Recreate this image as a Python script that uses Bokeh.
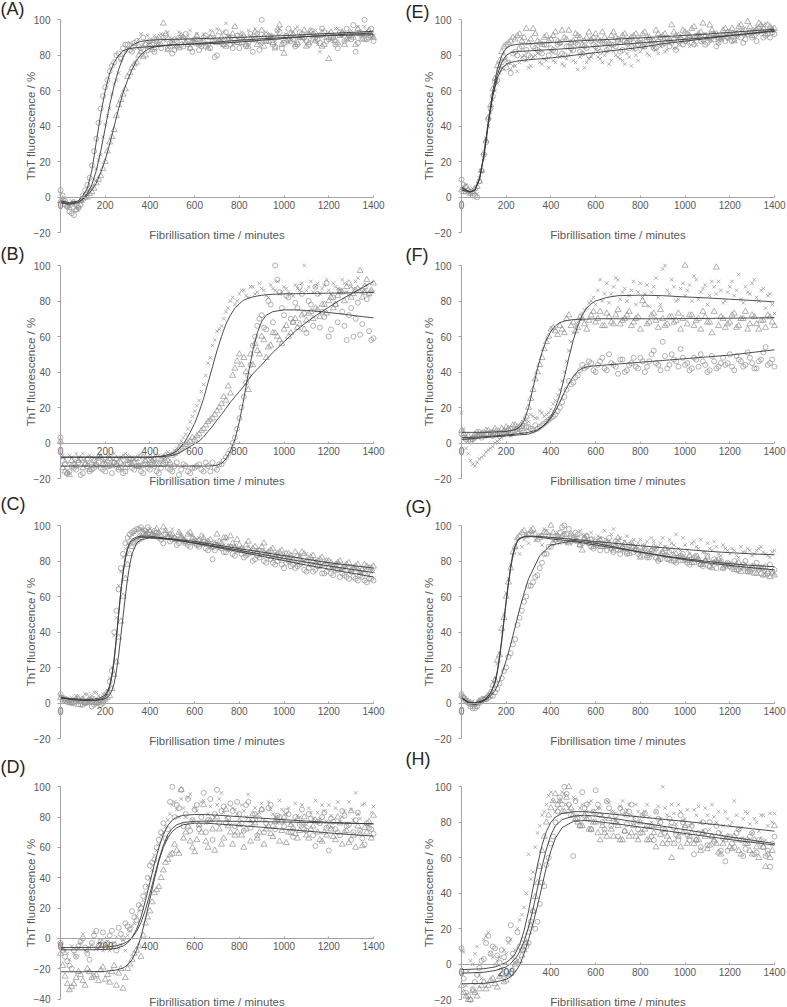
from bokeh.plotting import figure
from bokeh.models import LinearAxis, FixedTicker, Range1d, Label, Grid
from bokeh.layouts import column, row
from bokeh.embed import file_html
from bokeh.resources import INLINE

# ---------------- data ----------------
TIME = list(range(0, 1401, 20))          # sampling times (min), set 1
TIME_B = list(range(10, 1400, 20))       # sampling times (min), set 2 (interleaved)
X_TICKS = [0, 200, 400, 600, 800, 1000, 1200, 1400]
Y_TICKS = [-20, 0, 20, 40, 60, 80, 100]
Y_TICKS_D = [-40, -20, 0, 20, 40, 60, 80, 100]

# Panel A
A_circle = [4, -2, -8, -10, -6, 1, 7, 18, 33, 50,
            62, 71, 76, 81, 84, 86, 82, 88, 84, 86,
            88, 82, 86, 90, 84, 81, 88, 86, 92, 84,
            87, 83, 90, 86, 88, 80, 87, 93, 86, 89,
            84, 90, 87, 82, 92, 100, 88, 91, 85, 93,
            87, 95, 89, 86, 92, 88, 94, 90, 87, 93,
            89, 91, 84, 92, 95, 89, 82, 93, 100, 90,
            88]
A_circle_b = [1, -5, -9, -7, -4, 4, 11, 26, 42, 57,
              66, 74, 80, 78, 86, 83, 87, 85, 90, 83,
              86, 89, 84, 91, 87, 83, 90, 85, 88, 82,
              89, 85, 91, 84, 79, 88, 86, 90, 84, 91,
              87, 85, 92, 89, 83, 90, 88, 86, 94, 84,
              91, 88, 85, 93, 90, 86, 92, 89, 95, 88,
              90, 86, 93, 88, 91, 97, 87, 92, 89, 95]
A_cross = [2, -3, -5, -4, -6, -2, 3, 6, 16, 24,
           41, 50, 64, 70, 80, 84, 86, 85, 92, 88,
           87, 91, 86, 89, 93, 88, 85, 91, 89, 94,
           88, 86, 92, 90, 87, 95, 89, 98, 91, 87,
           92, 89, 94, 88, 91, 86, 93, 90, 88, 95,
           90, 87, 93, 96, 89, 92, 90, 94, 82, 91,
           93, 88, 95, 91, 89, 94, 92, 90, 96, 93,
           91]
A_cross_b = [-1, -4, -2, -6, -3, 1, 5, 10, 21, 34,
             46, 58, 66, 77, 82, 87, 84, 89, 86, 91,
             89, 86, 92, 88, 90, 85, 93, 87, 91, 88,
             92, 89, 87, 94, 90, 88, 93, 91, 86, 90,
             93, 88, 91, 95, 87, 92, 89, 91, 94, 88,
             92, 89, 95, 90, 88, 93, 91, 86, 94, 92,
             89, 95, 91, 93, 90, 92, 96, 91, 94, 90]
A_triangle = [-2, -4, -6, -3, -5, -1, 0, 3, 8, 12,
              20, 31, 38, 52, 58, 68, 73, 76, 82, 80,
              86, 84, 90, 98, 83, 88, 85, 91, 87, 84,
              89, 86, 88, 84, 92, 87, 90, 85, 88, 96,
              87, 91, 85, 89, 86, 94, 88, 90, 84, 97,
              81, 89, 92, 87, 90, 85, 93, 88, 91, 86,
              78, 90, 87, 93, 89, 91, 86, 92, 89, 94,
              90]
A_triangle_b = [-1, -5, -4, -7, -2, 0, 2, 5, 10, 16,
                26, 34, 46, 55, 61, 70, 75, 80, 79, 85,
                83, 88, 86, 92, 85, 89, 84, 90, 86, 88,
                91, 87, 85, 90, 88, 93, 86, 89, 92, 87,
                90, 86, 89, 93, 88, 85, 91, 87, 90, 86,
                88, 92, 86, 90, 94, 87, 89, 91, 85, 90,
                93, 88, 91, 86, 92, 90, 95, 89, 92, 91]
A_fit_t = [0, 40, 80, 100, 120, 140, 160, 180, 200, 220, 240, 260, 280, 300, 320,
           340, 360, 380, 400, 450, 500, 600, 700, 800, 900, 1000, 1100, 1200, 1300, 1400]
A_fit_circle = [-2, -3, -2, 1, 5, 15, 31, 47, 60, 70, 76, 80, 82.5, 83.5, 84,
                84.3, 84.5, 84.7, 85, 85.3, 85.7, 86.5, 87.5, 88.5, 89.3, 90, 90.6, 91.1, 91.4, 91.6]
A_fit_cross = [-3, -4, -3, -1, 2, 7, 15, 26, 39, 52, 63, 72, 79, 83, 85.5,
               87, 87.8, 88.2, 88.5, 88.8, 89, 89.3, 89.7, 90.1, 90.6, 91.1, 91.7, 92.3, 92.9, 93.5]
A_fit_triangle = [-3, -3.5, -2.5, -1, 1, 4, 8, 14, 21, 30, 40, 50, 59, 66, 72,
                  77, 80.5, 82.5, 84, 85.5, 86, 86.3, 86.7, 87.5, 88.5, 89.5, 90.5, 91.3, 92, 92.5]

# Panel E
E_circle = [10, 6, 3, 1, 9, 24, 44, 57, 66, 76,
            73, 70, 82, 84, 78, 80, 85, 83, 81, 86,
            84, 82, 87, 80, 85, 83, 86, 81, 84, 88,
            85, 82, 87, 84, 86, 88, 83, 87, 85, 84,
            87, 85, 89, 84, 88, 86, 90, 87, 83, 89,
            88, 90, 86, 91, 89, 87, 92, 85, 90, 88,
            91, 89, 93, 87, 92, 90, 88, 94, 91, 90,
            92]
E_circle_b = [7, 4, 1, 0, 15, 31, 50, 65, 72, 79,
              76, 81, 80, 85, 83, 79, 84, 82, 86, 80,
              83, 86, 81, 85, 84, 87, 82, 85, 80, 86,
              84, 87, 83, 86, 85, 82, 88, 84, 87, 86,
              85, 88, 86, 84, 90, 87, 85, 89, 88, 86,
              89, 87, 91, 88, 86, 90, 89, 87, 91, 90,
              88, 92, 90, 89, 93, 91, 95, 90, 92, 93]
E_cross = [5, 7, 4, 3, 11, 22, 40, 55, 64, 73,
           78, 72, 74, 76, 80, 73, 79, 81, 75, 77,
           82, 76, 79, 74, 80, 77, 72, 81, 76, 79,
           83, 78, 80, 75, 82, 79, 77, 81, 74, 80,
           82, 85, 80, 84, 81, 86, 83, 88, 84, 86,
           89, 85, 88, 91, 87, 90, 88, 92, 89, 91,
           90, 93, 91, 95, 92, 94, 96, 93, 98, 95,
           94]
E_cross_b = [6, 3, 5, 2, 14, 33, 48, 60, 70, 72,
             76, 74, 71, 79, 77, 74, 80, 76, 78, 73,
             77, 80, 75, 78, 82, 76, 79, 73, 78, 81,
             79, 76, 82, 77, 80, 78, 75, 79, 83, 77,
             84, 81, 86, 83, 85, 82, 87, 84, 86, 88,
             87, 90, 86, 89, 92, 88, 90, 87, 91, 89,
             92, 90, 94, 91, 93, 95, 92, 97, 94, 96]
E_triangle = [4, 3, 2, 5, 9, 25, 45, 61, 74, 82,
              86, 88, 89, 92, 90, 87, 95, 88, 86, 91,
              89, 93, 87, 90, 94, 88, 91, 86, 90, 89,
              92, 88, 90, 87, 93, 89, 91, 88, 90, 92,
              89, 93, 90, 88, 92, 91, 89, 97, 91, 90,
              93, 91, 96, 92, 98, 90, 94, 92, 89, 95,
              93, 88, 96, 92, 99, 91, 94, 97, 92, 96,
              95]
E_triangle_b = [3, 4, 3, 6, 15, 32, 52, 67, 77, 85,
                87, 90, 91, 88, 95, 89, 92, 87, 90, 88,
                91, 88, 94, 89, 87, 92, 90, 88, 93, 90,
                89, 93, 88, 91, 90, 87, 92, 89, 91, 88,
                92, 90, 88, 94, 90, 92, 89, 93, 91, 94,
                92, 95, 90, 93, 91, 97, 92, 90, 94, 93,
                95, 92, 97, 94, 96, 93, 98, 95, 97, 94]
E_fit_t = [0, 20, 40, 60, 80, 100, 120, 140, 160, 180, 200, 220, 240, 260, 300,
           400, 500, 600, 700, 800, 900, 1000, 1100, 1200, 1300, 1400]
E_fit_circle = [6, 4, 3, 4, 10, 23, 42, 58, 69, 76, 80, 81.5, 82, 82.2, 82.5,
                83.2, 84, 85, 86, 87, 88, 89, 90, 91.2, 92.3, 93.5]
E_fit_cross = [5, 4, 3, 4, 10, 23, 41, 57, 67, 72.5, 75, 76, 76.5, 77, 77.5,
               78.5, 80, 81.5, 83, 84.5, 86.5, 88, 89.5, 91, 92.5, 94]
E_fit_triangle = [4, 3.5, 3, 4, 10, 24, 43, 60, 72, 80, 84, 85.5, 86, 86.3, 86.6,
                  87.2, 88, 88.6, 89.2, 89.8, 90.5, 91.2, 92, 92.9, 93.8, 94.7]

# Panel B
B_circle = [3, -12, -16, -14, -11, -17, -13, -15, -12, -14,
            -16, -13, -11, -15, -17, -12, -14, -13, -16, -12,
            -15, -13, -17, -12, -14, -16, -11, -15, -13, -17,
            -14, -12, -16, -13, -11, -15, -12, -8, -4, 3,
            14, 26, 38, 55, 66, 72, 64, 78, 100, 85,
            72, 82, 68, 76, 84, 62, 78, 88, 65, 71,
            60, 82, 68, 74, 58, 76, 70, 61, 85, 63,
            59]
B_circle_b = [-10, -17, -13, -15, -18, -12, -16, -14, -11, -15,
              -13, -17, -12, -14, -16, -11, -15, -13, -17, -14,
              -12, -16, -14, -11, -15, -13, -18, -12, -16, -14,
              -13, -15, -11, -16, -14, -12, -10, -6, 0, 8,
              20, 34, 44, 60, 70, 65, 80, 68, 92, 76,
              83, 70, 79, 88, 73, 80, 66, 84, 74, 90,
              64, 78, 86, 66, 72, 60, 79, 67, 81, 58]
B_cross = [0, -9, -7, -10, -8, -6, -11, -8, -9, -7,
           -10, -8, -6, -9, -11, -7, -8, -10, -6, -9,
           -8, -10, -7, -9, -5, -6, -3, 1, 5, 12,
           18, 24, 33, 45, 55, 63, 66, 74, 80, 78,
           84, 86, 82, 88, 85, 87, 83, 89, 86, 84,
           88, 85, 83, 87, 90, 86, 91, 88, 84, 89,
           86, 90, 87, 92, 85, 88, 91, 87, 86, 83,
           85]
B_cross_b = [-7, -11, -8, -6, -10, -9, -7, -12, -8, -10,
             -7, -9, -11, -8, -6, -10, -9, -7, -11, -8,
             -9, -7, -11, -8, -6, -4, -1, 3, 8, 15,
             21, 29, 38, 48, 58, 64, 70, 76, 82, 80,
             86, 83, 88, 84, 90, 86, 82, 87, 91, 85,
             87, 84, 89, 86, 100, 88, 85, 90, 87, 92,
             84, 88, 86, 90, 83, 87, 93, 85, 89, 86]
B_triangle = [1, -16, -18, -12, -10, -14, -9, -11, -13, -8,
              -12, -9, -11, -14, -8, -10, -12, -9, -13, -10,
              -11, -9, -12, -8, -10, -7, -5, -3, -1, 1,
              2, 5, 8, 12, 14, 18, 22, 24, 28, 42,
              50, 48, 30, 44, 52, 60, 48, 55, 62, 58,
              64, 60, 68, 65, 72, 69, 74, 76, 71, 78,
              80, 76, 83, 85, 88, 82, 86, 97, 88, 84,
              90]
B_triangle_b = [-14, -17, -10, -13, -9, -12, -15, -10, -8, -12,
                -10, -13, -9, -11, -14, -9, -11, -13, -8, -12,
                -10, -12, -9, -7, -11, -6, -4, -2, 0, 3,
                4, 7, 10, 13, 16, 20, 26, 32, 38, 46,
                44, 40, 50, 56, 50, 58, 54, 62, 60, 56,
                66, 62, 70, 67, 64, 73, 70, 75, 78, 73,
                82, 78, 85, 80, 90, 84, 87, 82, 92, 86]
B_fit_t = [0, 200, 400, 450, 500, 520, 540, 560, 580, 600, 620, 640, 660, 680, 700, 720,
           740, 760, 780, 800, 820, 840, 860, 880, 900, 920, 950, 1000, 1050, 1100, 1150,
           1200, 1250, 1300, 1350, 1400]
B_fit_circle = [-13, -13, -13, -13, -13, -13, -13, -13, -13, -13, -13, -13, -13, -12.8, -12.5, -11.5,
                -9, -4.5, 2, 12, 25, 39, 52, 62, 68.5, 72, 74, 75, 75, 74.7, 74.2,
                73.5, 72.8, 72, 71.2, 70.5]
B_fit_cross = [-8, -8, -8, -7.5, -6, -4.5, -2, 1.5, 6, 11, 17.5, 25, 34, 43, 52, 60,
               67, 72, 76, 78.5, 80.5, 81.5, 82.3, 82.8, 83.2, 83.5, 83.8, 84, 84.1, 84.2, 84.3,
               84.4, 84.5, 84.6, 84.7, 84.8]
B_fit_triangle = [-8, -8, -8, -7.8, -7, -6.2, -5, -3.5, -2, -0.5, 1, 3.5, 6.5, 9.5, 13, 16,
                  19.5, 23, 26, 29, 32, 35.5, 39, 41.5, 44, 47, 51, 57, 63, 68, 72.5,
                  76.5, 80.5, 84, 87.5, 91]

# Panel F
F_circle = [5, 2, 1, 3, 4, 6, 5, 4, 7, 5,
            6, 5, 7, 8, 6, 9, 7, 8, 10, 12,
            14, 16, 20, 26, 35, 34, 38, 44, 43, 45,
            40, 46, 42, 50, 44, 39, 47, 41, 45, 43,
            48, 40, 46, 52, 44, 57, 42, 50, 46, 53,
            44, 41, 48, 43, 46, 40, 49, 42, 45, 44,
            50, 41, 47, 43, 51, 45, 42, 47, 54, 45,
            43]
F_circle_b = [3, 1, 2, 4, 3, 5, 6, 5, 4, 6,
              7, 6, 8, 7, 9, 8, 10, 9, 11, 13,
              15, 18, 23, 30, 33, 37, 41, 42, 46, 41,
              44, 48, 41, 45, 43, 47, 40, 44, 48, 42,
              46, 43, 50, 45, 41, 49, 44, 47, 43, 48,
              45, 42, 47, 50, 44, 41, 46, 43, 48, 45,
              43, 49, 46, 44, 48, 42, 46, 51, 44, 47]
F_cross = [17, -3, -10, -13, -9, -7, -4, -2, 1, 3,
           5, 4, 7, 6, 9, 12, 15, 14, 17, 16,
           19, 24, 30, 40, 52, 62, 68, 73, 76, 80,
           78, 92, 84, 79, 88, 92, 85, 80, 86, 78,
           90, 84, 77, 88, 82, 98, 86, 92, 80, 87,
           83, 89, 94, 81, 87, 78, 91, 84, 86, 80,
           88, 83, 95, 79, 85, 90, 82, 86, 76, 84,
           73]
F_cross_b = [8, -6, -12, -11, -8, -5, -3, 0, 2, 4,
             6, 5, 8, 10, 13, 16, 14, 18, 15, 17,
             22, 27, 35, 46, 57, 66, 70, 75, 79, 82,
             86, 80, 90, 84, 93, 81, 87, 83, 91, 85,
             82, 89, 85, 93, 78, 100, 84, 88, 81, 90,
             86, 80, 92, 85, 89, 83, 88, 91, 79, 85,
             91, 86, 81, 88, 84, 92, 80, 87, 83, 78]
F_triangle = [7, 3, 2, 5, 6, 4, 7, 6, 5, 8,
              9, 8, 10, 9, 12, 20, 30, 40, 48, 57,
              64, 63, 66, 62, 72, 68, 65, 70, 64, 72,
              68, 74, 66, 71, 67, 75, 69, 72, 66, 70,
              64, 78, 68, 73, 65, 70, 67, 71, 69, 64,
              100, 72, 66, 70, 74, 68, 62, 99, 71, 65,
              68, 73, 66, 70, 64, 72, 67, 69, 65, 71,
              66]
F_triangle_b = [5, 4, 3, 6, 5, 7, 5, 8, 6, 7,
                8, 10, 9, 11, 15, 25, 36, 44, 53, 60,
                65, 61, 64, 70, 66, 63, 71, 67, 69, 74,
                70, 66, 73, 68, 72, 67, 70, 74, 68, 71,
                80, 67, 72, 69, 75, 66, 71, 68, 73, 70,
                67, 72, 69, 64, 71, 68, 74, 66, 70, 67,
                72, 65, 70, 74, 67, 71, 64, 69, 72, 68]
F_fit_t = [0, 100, 200, 240, 260, 280, 300, 320, 340, 360, 380, 400, 420, 440, 460, 480,
           500, 520, 540, 560, 580, 600, 650, 700, 800, 900, 1000, 1100, 1200, 1300, 1400]
F_fit_circle = [3, 3.5, 4.5, 5, 5.3, 5.6, 6, 6.7, 7.5, 9, 11, 14, 18, 23, 28.5, 33.5,
                37.5, 40.5, 42, 42.8, 43.2, 43.5, 44, 44.5, 45.5, 46.5, 47.5, 48.5, 49.5, 51, 52.5]
F_fit_cross = [2, 3, 4, 4.4, 4.6, 4.8, 5, 6, 7, 9, 11.5, 15, 20, 27, 37, 48,
               58, 66, 72, 76, 78.5, 80, 82, 83, 83.3, 83, 82.3, 81.7, 81, 80.3, 79.5]
F_fit_triangle = [6, 6, 6.5, 7.5, 9, 12.5, 20, 31, 42, 51, 58, 63, 66, 67.8, 68.7, 69.2,
                  69.5, 69.6, 69.7, 69.8, 69.9, 70, 70, 70, 70, 70, 70.1, 70.2, 70.3, 70.4, 70.6]

# Panel C
C_circle = [5, 2, 1, 0, 2, -1, 1, -2, 0, -1,
            3, 12, 40, 64, 84, 93, 96, 98, 99, 97,
            95, 97, 93, 90, 94, 92, 89, 93, 91, 88,
            90, 88, 91, 86, 81, 89, 87, 85, 88, 83,
            86, 82, 84, 80, 83, 85, 79, 81, 78, 82,
            76, 80, 78, 77, 79, 74, 78, 75, 77, 73,
            76, 72, 75, 73, 71, 74, 70, 72, 69, 70,
            69]
C_circle_b = [3, 2, 0, 1, -1, 0, 2, -1, 1, 0,
              6, 18, 52, 76, 90, 95, 97, 98, 96, 99,
              94, 96, 92, 95, 91, 93, 90, 92, 89, 91,
              89, 90, 87, 89, 86, 88, 85, 87, 84, 86,
              84, 83, 85, 81, 82, 80, 83, 79, 80, 78,
              79, 77, 76, 78, 75, 76, 74, 77, 73, 74,
              73, 75, 71, 72, 70, 71, 69, 71, 68, 70]
C_cross = [4, 3, 1, 2, 4, 3, 5, 4, 6, 3,
           5, 14, 38, 66, 82, 90, 95, 97, 98, 96,
           98, 94, 96, 93, 95, 98, 91, 94, 92, 95,
           90, 93, 89, 91, 87, 90, 88, 92, 86, 89,
           87, 85, 88, 84, 86, 83, 85, 82, 84, 81,
           83, 80, 82, 79, 81, 84, 78, 80, 77, 79,
           78, 76, 79, 75, 77, 74, 76, 73, 75, 72,
           74]
C_cross_b = [3, 2, 3, 4, 2, 5, 3, 6, 4, 5,
             7, 20, 48, 74, 87, 93, 96, 95, 98, 97,
             96, 95, 93, 97, 94, 92, 96, 93, 91, 94,
             92, 91, 90, 88, 91, 87, 89, 86, 88, 87,
             86, 84, 87, 85, 83, 86, 84, 81, 83, 82,
             82, 81, 79, 83, 80, 78, 81, 79, 78, 80,
             77, 78, 75, 76, 74, 77, 75, 74, 73, 74]
C_triangle = [3, 1, 0, 1, -1, 2, 0, 1, 0, 1,
              2, 4, 16, 37, 60, 78, 88, 91, 93, 95,
              97, 94, 96, 99, 93, 95, 92, 94, 90, 96,
              92, 89, 93, 91, 88, 95, 90, 93, 94, 87,
              89, 86, 91, 87, 85, 88, 84, 86, 83, 85,
              82, 84, 81, 83, 85, 80, 82, 79, 81, 78,
              80, 77, 79, 76, 78, 75, 77, 74, 78, 76,
              77]
C_triangle_b = [2, 1, 0, 2, 1, 0, 1, 2, 0, 1,
                3, 8, 23, 46, 70, 84, 90, 92, 95, 96,
                95, 98, 94, 97, 95, 93, 96, 91, 95, 93,
                91, 94, 90, 92, 89, 91, 93, 88, 90, 92,
                87, 89, 85, 88, 86, 90, 85, 87, 84, 86,
                84, 83, 85, 82, 84, 81, 83, 80, 82, 80,
                79, 78, 80, 77, 79, 76, 78, 75, 77, 76]
C_fit_t = [0, 50, 100, 150, 180, 200, 210, 220, 230, 240, 250, 260, 270, 280, 290, 300,
           310, 320, 340, 360, 400, 500, 600, 700, 800, 900, 1000, 1100, 1200, 1300, 1400]
C_fit_circle = [3, 2, 1.5, 1.5, 2, 3.5, 5.5, 9, 15, 24, 36, 50, 63, 74, 82, 87.5,
                90.5, 92.2, 93.5, 94, 94, 92.3, 90, 87.7, 85.2, 82.7, 80.2, 77.7, 75.5, 73.2, 71]
C_fit_cross = [3, 2.5, 2, 2.2, 3, 4.5, 6.5, 10, 16, 25, 37, 50, 63, 73, 81, 86.5,
               89.5, 91.3, 92.8, 93.3, 93.2, 92, 90.2, 88.2, 86, 83.8, 81.5, 79.3, 77.2, 75.3, 73.5]
C_fit_triangle = [3, 2, 1.5, 1.5, 1.8, 2.5, 3.2, 4.5, 7, 11, 18, 27, 38, 49, 60, 70,
                  78, 84, 90, 92, 93, 92.5, 91, 89, 87, 85, 83, 81, 79, 77.5, 76]

# Panel G
G_circle = [5, 1, -2, -3, 0, 2, 3, 4, 8, 14,
            20, 28, 36, 48, 57, 66, 68, 72, 79, 84,
            88, 92, 96, 100, 98, 92, 95, 90, 94, 88,
            91, 86, 89, 93, 85, 90, 87, 84, 88, 86,
            83, 87, 82, 85, 80, 84, 81, 86, 79, 83,
            81, 78, 82, 80, 77, 83, 79, 76, 80, 78,
            77, 80, 75, 78, 74, 76, 79, 73, 77, 78,
            75]
G_circle_b = [3, 0, -3, -2, 1, 2, 4, 6, 11, 18,
              26, 33, 44, 52, 60, 66, 71, 76, 84, 88,
              90, 94, 99, 95, 91, 96, 89, 93, 90, 87,
              89, 92, 86, 88, 91, 84, 87, 89, 85, 84,
              86, 82, 84, 87, 81, 83, 85, 80, 82, 84,
              79, 81, 83, 78, 80, 77, 81, 79, 76, 79,
              78, 75, 77, 80, 74, 77, 75, 76, 73, 74]
G_cross = [3, 1, -1, 0, 2, 3, 5, 12, 22, 40,
           62, 78, 87, 84, 92, 90, 96, 94, 89, 97,
           95, 92, 90, 96, 93, 91, 94, 95, 92, 96,
           90, 93, 97, 91, 98, 92, 89, 94, 90, 88,
           92, 89, 86, 91, 88, 93, 87, 90, 95, 86,
           89, 84, 91, 87, 85, 90, 86, 88, 83, 87,
           84, 86, 82, 85, 87, 83, 86, 88, 84, 82,
           86]
G_cross_b = [2, 0, 1, -1, 1, 2, 6, 14, 28, 50,
             70, 83, 92, 88, 94, 96, 92, 95, 98, 93,
             91, 96, 93, 90, 95, 92, 97, 94, 91, 93,
             94, 90, 92, 95, 89, 93, 91, 87, 92, 90,
             89, 91, 93, 87, 90, 88, 92, 89, 87, 93,
             86, 90, 88, 92, 85, 87, 91, 84, 89, 86,
             87, 83, 88, 85, 86, 84, 87, 85, 83, 85]
G_triangle = [4, 2, 0, -2, 1, 2, 4, 10, 24, 42,
              60, 76, 88, 94, 97, 95, 98, 92, 94, 96,
              100, 94, 92, 95, 90, 93, 91, 86, 94, 92,
              89, 92, 88, 90, 86, 93, 88, 85, 90, 87,
              82, 86, 84, 88, 81, 85, 83, 80, 84, 82,
              80, 83, 79, 81, 78, 82, 76, 80, 79, 77,
              78, 75, 79, 76, 74, 77, 73, 76, 72, 71,
              72]
G_triangle_b = [3, 1, -1, 0, 2, 3, 6, 13, 27, 48,
                68, 85, 93, 96, 94, 97, 95, 93, 96, 94,
                96, 93, 94, 91, 95, 92, 89, 93, 90, 88,
                91, 88, 90, 87, 89, 86, 90, 84, 88, 86,
                85, 83, 86, 82, 84, 87, 81, 83, 80, 82,
                81, 79, 82, 78, 80, 77, 79, 81, 76, 78,
                76, 78, 74, 77, 75, 73, 76, 72, 74, 73]
G_fit_t = [0, 30, 60, 90, 110, 130, 150, 160, 170, 180, 190, 200, 210, 220, 230, 240,
           250, 260, 280, 300, 350, 400, 500, 600, 700, 800, 900, 1000, 1100, 1200, 1300, 1400]
G_fit_circle = [3, 0, -1, 0.5, 2, 4, 7, 9.5, 12.5, 16, 20, 24, 28.5, 33, 38, 43,
                48, 53, 62, 70, 83, 89, 91.5, 90, 87.5, 85, 82.8, 80.8, 79, 77.5, 76.2, 75]
G_fit_cross = [3, 0.5, 0, 1, 2.5, 5.5, 12, 18, 26, 36, 47, 58, 68, 77, 84, 88.5,
               91.3, 92.8, 93.8, 94, 93.8, 93.3, 92.2, 91, 89.8, 88.6, 87.5, 86.5, 85.5, 84.7, 84, 83.5]
G_fit_triangle = [3, 0.5, 0, 1, 2.5, 5.5, 11, 17, 25, 35, 46, 57, 67, 76, 83, 88,
                  91, 92.6, 93.6, 93.8, 93.4, 92.5, 91, 89, 87, 85, 83, 81.3, 79.8, 78.5, 77.5, 76.8]

# Panel D
D_circle = [-3, -12, -18, -8, -5, 0, -10, -3, 5, -2,
            -6, 2, -4, 7, 0, 8, 18, 12, 20, 34,
            48, 52, 65, 76, 72, 100, 88, 98, 82, 71,
            85, 72, 96, 78, 65, 98, 84, 76, 89, 74,
            82, 71, 90, 78, 68, 85, 76, 88, 72, 80,
            74, 82, 67, 78, 85, 71, 79, 61, 76, 83,
            58, 77, 70, 84, 74, 65, 78, 71, 62, 73,
            69]
D_circle_b = [-8, -15, -20, -12, -2, -6, -14, 2, -5, 4,
              -3, 5, -8, 3, 10, 6, 14, 22, 28, 40,
              50, 60, 70, 66, 90, 80, 86, 74, 92, 78,
              88, 80, 70, 92, 82, 76, 87, 79, 84, 90,
              76, 88, 73, 82, 79, 70, 86, 74, 81, 77,
              84, 70, 80, 75, 72, 82, 68, 77, 80, 73,
              79, 72, 68, 81, 75, 70, 83, 66, 76, 72]
D_cross = [-5, -8, -14, -10, -6, 3, -9, -4, -7, -2,
           -5, -8, -3, -6, -1, 2, 8, 15, 22, 30,
           40, 55, 62, 70, 78, 88, 85, 92, 80, 95,
           86, 74, 91, 82, 78, 88, 96, 80, 75, 85,
           79, 84, 95, 76, 82, 89, 74, 85, 80, 91,
           77, 86, 72, 81, 88, 75, 83, 91, 79, 84,
           88, 73, 90, 80, 76, 85, 96, 79, 89, 74,
           87]
D_cross_b = [-7, -10, -5, -12, -3, -8, -6, 4, -4, -8,
             -2, -6, 1, -4, -8, 5, 10, 18, 25, 35,
             45, 58, 68, 74, 82, 90, 80, 86, 93, 78,
             84, 90, 76, 87, 80, 92, 83, 78, 86, 82,
             88, 80, 77, 86, 83, 78, 90, 82, 76, 85,
             82, 76, 89, 80, 74, 86, 79, 83, 88, 77,
             81, 86, 77, 84, 90, 78, 82, 88, 75, 83]
D_triangle = [-10, -25, -34, -30, -22, -28, -20, -26, -24, -21,
              -27, -29, -18, -23, -33, -20, -14, -8, -12, 10,
              18, 30, 34, 45, 52, 56, 58, 98, 70, 64,
              57, 75, 88, 60, 72, 80, 62, 85, 70, 68,
              75, 60, 78, 82, 66, 85, 72, 69, 77, 64,
              80, 70, 73, 66, 76, 68, 72, 78, 65, 70,
              74, 67, 80, 62, 71, 84, 60, 69, 73, 77,
              81]
D_triangle_b = [-18, -30, -32, -26, -24, -31, -22, -25, -28, -19,
                -24, -22, -31, -20, -26, -17, -10, -5, 2, 14,
                24, 32, 40, 50, 55, 62, 56, 66, 74, 60,
                65, 70, 64, 78, 58, 72, 66, 74, 62, 70,
                68, 72, 64, 76, 70, 62, 74, 67, 79, 71,
                63, 75, 69, 71, 80, 66, 74, 70, 64, 68,
                72, 65, 76, 70, 63, 68, 74, 61, 70, 66]
D_fit_t = [0, 100, 200, 250, 280, 300, 320, 340, 360, 380, 400, 420, 440, 460, 480, 500,
           520, 550, 600, 650, 700, 800, 900, 1000, 1100, 1200, 1300, 1400]
D_fit_circle = [-7.5, -7.5, -7.3, -6.5, -5, -3, 0.5, 6, 14, 25, 37, 49, 60, 68.5, 74.5, 78,
                80, 81.2, 81.7, 81.7, 81.3, 80.3, 79.3, 78.3, 77.4, 76.6, 76, 75.5]
D_fit_cross = [-6, -6, -5.7, -4.8, -3.5, -2, 0.5, 4.5, 10.5, 19, 29.5, 41, 52, 61.5, 68.5, 72.5,
               75, 76.5, 77.2, 77.4, 77.4, 77.2, 77, 76.8, 76.5, 76.2, 75.9, 75.6]
D_fit_triangle = [-22, -22, -21.7, -20.8, -19.5, -17.5, -14, -8, 1, 13, 26, 39, 51, 60, 66.5, 70.5,
                  73, 75, 76, 76, 75.5, 74.5, 73.3, 72, 70.8, 69.6, 68.5, 67.5]

# Panel H
H_circle = [9, -16, -20, -10, -2, 3, 16, 10, 5, 8,
            -4, 22, 2, 10, 14, 12, 30, 24, 46, 56,
            68, 80, 94, 100, 90, 61, 82, 97, 90, 76,
            98, 84, 76, 88, 80, 72, 86, 79, 90, 82,
            74, 85, 78, 70, 82, 76, 68, 80, 73, 84,
            77, 70, 62, 74, 80, 67, 72, 78, 64, 58,
            72, 66, 76, 61, 70, 74, 63, 68, 61, 55,
            72]
H_circle_b = [-8, -18, -14, -6, 2, 12, 6, 9, 1, 4,
              14, 6, 18, 8, 10, 24, 20, 34, 44, 60,
              72, 86, 90, 96, 84, 92, 78, 88, 82, 86,
              90, 80, 92, 78, 84, 88, 75, 86, 80, 76,
              84, 78, 72, 86, 80, 74, 82, 77, 70, 80,
              73, 78, 70, 66, 75, 80, 69, 74, 71, 64,
              68, 74, 70, 65, 72, 62, 70, 66, 64, 68]
H_cross = [8, -12, 2, 6, -6, 14, 18, 4, 2, -2,
           6, 14, 8, 25, 32, 62, 52, 74, 84, 90,
           97, 86, 92, 96, 88, 94, 84, 90, 86, 92,
           84, 88, 82, 91, 86, 80, 92, 87, 84, 90,
           80, 86, 83, 78, 89, 100, 84, 90, 79, 86,
           82, 78, 87, 89, 75, 84, 90, 80, 74, 86,
           78, 92, 76, 82, 85, 74, 80, 84, 70, 85,
           85]
H_cross_b = [7, -4, 0, 10, -8, 16, 6, 0, 4, 8,
             12, 4, 20, 28, 40, 48, 66, 78, 86, 95,
             92, 88, 97, 90, 86, 93, 88, 82, 91, 86,
             88, 84, 92, 86, 81, 89, 85, 90, 83, 86,
             84, 90, 80, 86, 82, 88, 78, 85, 90, 81,
             87, 79, 84, 80, 88, 76, 83, 86, 78, 82,
             80, 84, 77, 86, 79, 82, 75, 84, 78, 80]
H_triangle = [-12, -18, -20, -16, -14, -10, -12, -8, -13, -6,
              -9, -5, 0, 2, 8, 18, 30, 46, 64, 80,
              88, 96, 92, 86, 100, 84, 80, 78, 82, 76,
              80, 70, 74, 82, 72, 78, 70, 84, 74, 72,
              80, 76, 70, 74, 78, 68, 72, 60, 75, 66,
              78, 72, 68, 70, 74, 65, 72, 68, 62, 70,
              66, 72, 64, 70, 68, 62, 66, 70, 55, 60,
              78]
H_triangle_b = [-16, -20, -15, -18, -12, -14, -9, -11, -7, -10,
                -6, -3, 1, 5, 12, 22, 38, 55, 72, 84,
                92, 90, 86, 94, 88, 82, 78, 84, 76, 80,
                74, 78, 72, 76, 80, 70, 75, 72, 78, 70,
                74, 70, 78, 66, 73, 76, 70, 68, 72, 74,
                68, 74, 70, 64, 72, 67, 70, 63, 68, 72,
                65, 70, 62, 68, 64, 70, 60, 66, 62, 64]
H_fit_t = [0, 100, 150, 200, 220, 240, 260, 280, 300, 320, 340, 360, 380, 400, 420, 450,
           500, 550, 600, 700, 800, 900, 1000, 1100, 1200, 1300, 1400]
H_fit_circle = [-5, -4.5, -3.5, -1.5, 0.5, 3, 7, 13, 21, 31, 43, 55, 65, 73, 78, 81.5,
                83.5, 84, 83.5, 81.8, 79.8, 77.8, 75.8, 73.8, 71.8, 69.9, 68]
H_fit_cross = [-3, -2.5, -1.5, 1, 3, 6, 11, 19, 30, 43, 56, 67, 75, 80, 83, 85,
               86, 86, 85.5, 84.3, 83, 81.7, 80.5, 79.2, 77.8, 76.4, 75]
H_fit_triangle = [-11, -10.7, -10, -8.5, -7, -4.5, -0.5, 6, 14, 23, 33, 44, 55, 64, 71, 77,
                  80.5, 81, 80.5, 79, 77.3, 75.5, 73.7, 72, 70.3, 68.7, 67.2]

PANELS = {
    "A": dict(s=(A_circle, A_cross, A_triangle), b=(A_circle_b, A_cross_b, A_triangle_b),
              ft=A_fit_t, f=(A_fit_circle, A_fit_cross, A_fit_triangle), yt=Y_TICKS),
    "E": dict(s=(E_circle, E_cross, E_triangle), b=(E_circle_b, E_cross_b, E_triangle_b),
              ft=E_fit_t, f=(E_fit_circle, E_fit_cross, E_fit_triangle), yt=Y_TICKS),
    "B": dict(s=(B_circle, B_cross, B_triangle), b=(B_circle_b, B_cross_b, B_triangle_b),
              ft=B_fit_t, f=(B_fit_circle, B_fit_cross, B_fit_triangle), yt=Y_TICKS),
    "F": dict(s=(F_circle, F_cross, F_triangle), b=(F_circle_b, F_cross_b, F_triangle_b),
              ft=F_fit_t, f=(F_fit_circle, F_fit_cross, F_fit_triangle), yt=Y_TICKS),
    "C": dict(s=(C_circle, C_cross, C_triangle), b=(C_circle_b, C_cross_b, C_triangle_b),
              ft=C_fit_t, f=(C_fit_circle, C_fit_cross, C_fit_triangle), yt=Y_TICKS),
    "G": dict(s=(G_circle, G_cross, G_triangle), b=(G_circle_b, G_cross_b, G_triangle_b),
              ft=G_fit_t, f=(G_fit_circle, G_fit_cross, G_fit_triangle), yt=Y_TICKS),
    "D": dict(s=(D_circle, D_cross, D_triangle), b=(D_circle_b, D_cross_b, D_triangle_b),
              ft=D_fit_t, f=(D_fit_circle, D_fit_cross, D_fit_triangle), yt=Y_TICKS_D),
    "H": dict(s=(H_circle, H_cross, H_triangle), b=(H_circle_b, H_cross_b, H_triangle_b),
              ft=H_fit_t, f=(H_fit_circle, H_fit_cross, H_fit_triangle), yt=Y_TICKS),
}

# ---------------- layout / style ----------------
FONT = "Liberation Sans"
AXIS_GRAY = "#a3a3a3"
TEXT_GRAY = "#595959"
MARKER_GRAY = "#909090"
LINE_DARK = "#3a3a3a"

COLS = [dict(width=393, axis=60, right=373, lab=0, ylab_standoff=-6),
        dict(width=394, axis=68, right=381, lab=12, ylab_standoff=-3)]
ROWS = [dict(height=244, y100=19.3), dict(height=246, y100=21),
        dict(height=260, y100=35), dict(height=257, y100=36.3)]
LABEL_TOP = {"A": -2, "E": 1, "B": -1, "F": 0, "C": 3, "G": 6, "D": 6, "H": -2}
MARKERS = [("circle", 5), ("x", 5), ("triangle", 6)]


def make_panel(letter, ci, ri):
    d = PANELS[letter]
    for arr in d["s"]:
        assert len(arr) == len(TIME), (letter, len(arr))
    for arr in d["b"]:
        assert len(arr) == len(TIME_B), (letter, len(arr))
    for arr in d["f"]:
        assert len(arr) == len(d["ft"]), (letter, len(arr), len(d["ft"]))
    yticks = d["yt"]
    c = COLS[ci]
    r = ROWS[ri]
    ymin = yticks[0]
    sx = (c["right"] - c["axis"]) / 1400.0
    x0 = -c["axis"] / sx
    x1 = (c["width"] - c["axis"]) / sx
    span = 213.0 if ymin == -20 else 212.3
    sy = span / (100 - ymin)
    y1 = 100 + r["y100"] / sy
    y0 = y1 - r["height"] / sy

    p = figure(width=c["width"], height=r["height"], title=None,
               x_range=Range1d(x0, x1), y_range=Range1d(y0, y1),
               x_axis_location=None, y_axis_location=None,
               toolbar_location=None, output_backend="svg", min_border=0)
    p.outline_line_color = None
    p.background_fill_color = "white"
    p.border_fill_color = "white"
    for g in list(p.center):
        if isinstance(g, Grid):
            g.visible = False

    for (mk, size), ya_, yb_ in zip(MARKERS, d["s"], d["b"]):
        xs = TIME + TIME_B
        ys = list(ya_) + list(yb_)
        if mk == "x":
            p.scatter(xs, ys, marker=mk, size=size, line_color=MARKER_GRAY,
                      line_width=0.7)
        else:
            p.scatter(xs, ys, marker=mk, size=size, fill_color=None,
                      line_color=MARKER_GRAY, line_width=0.7)
    for vals in d["f"]:
        p.line(d["ft"], vals, line_color=LINE_DARK, line_width=0.9)

    dist = (0 - ymin) * sy + (2 if ymin == -40 else 1)
    xa = LinearAxis(fixed_location=0, ticker=FixedTicker(ticks=X_TICKS),
                    bounds=(0, 1400), axis_label="Fibrillisation time / minutes")
    xa.axis_line_color = AXIS_GRAY
    xa.major_tick_line_color = AXIS_GRAY
    xa.major_tick_in = 2
    xa.major_tick_out = 0
    xa.minor_tick_line_color = None
    xa.major_label_standoff = 4
    xa.major_label_text_font = FONT
    xa.major_label_text_font_size = "10px"
    xa.major_label_text_color = TEXT_GRAY
    xa.axis_label_text_font = FONT
    xa.axis_label_text_font_size = "11.5px"
    xa.axis_label_text_font_style = "normal"
    xa.axis_label_text_color = TEXT_GRAY
    xa.axis_label_standoff = int(round(dist - 21))
    p.add_layout(xa, "below")

    ya = LinearAxis(fixed_location=0, ticker=FixedTicker(ticks=yticks),
                    bounds=(ymin, 100), axis_label="ThT fluorescence / %")
    ya.axis_line_color = AXIS_GRAY
    ya.major_tick_line_color = AXIS_GRAY
    ya.major_tick_in = 0
    ya.major_tick_out = 3
    ya.minor_tick_line_color = None
    ya.major_label_standoff = 7
    ya.major_label_text_font = FONT
    ya.major_label_text_font_size = "10px"
    ya.major_label_text_color = TEXT_GRAY
    ya.axis_label_text_font = FONT
    ya.axis_label_text_font_size = "11.5px"
    ya.axis_label_text_font_style = "normal"
    ya.axis_label_text_color = TEXT_GRAY
    ya.axis_label_standoff = c["ylab_standoff"]
    p.add_layout(ya, "left")

    lab = Label(x=x0 + c["lab"] / sx, y=y1 - LABEL_TOP[letter] / sy,
                text="(%s)" % letter, text_baseline="top", text_align="left",
                text_font=FONT, text_font_size="18px", text_color="#262626")
    p.add_layout(lab)
    return p


rows = []
for ri, (l, r) in enumerate([("A", "E"), ("B", "F"), ("C", "G"), ("D", "H")]):
    rows.append(row(make_panel(l, 0, ri), make_panel(r, 1, ri)))
layout = column(*rows)

open("out.html", "w").write(file_html(layout, INLINE, title="ThT fluorescence"))
